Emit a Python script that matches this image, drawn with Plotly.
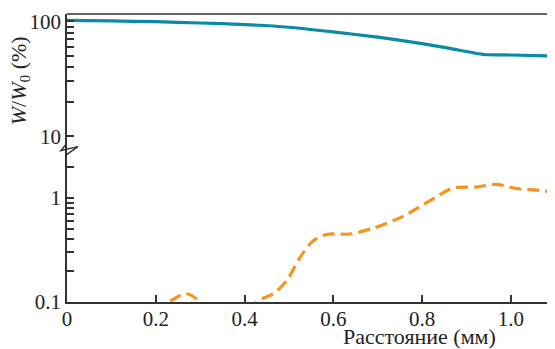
import plotly.graph_objects as go

# Data
teal_x = [0.0, 0.1, 0.2, 0.3, 0.4, 0.5, 0.6, 0.7, 0.8, 0.86, 0.94, 1.0, 1.1]
teal_y = [102, 101, 99.5, 97, 94, 89, 81, 73, 64, 58.5, 51.5, 51, 50]

orange_x = [0.2, 0.236, 0.27, 0.301, 0.33, 0.38, 0.41, 0.43, 0.465, 0.495, 0.525, 0.555, 0.585,
            0.637, 0.689, 0.756, 0.794, 0.832, 0.869, 0.922, 0.967, 1.012, 1.064, 1.1]
orange_y = [0.08, 0.104, 0.12, 0.1, 0.08, 0.07, 0.08, 0.102, 0.12, 0.161, 0.268, 0.387, 0.445,
            0.45, 0.51, 0.66, 0.82, 1.02, 1.24, 1.27, 1.35, 1.23, 1.18, 1.13]

x_ticks = [0, 0.2, 0.4, 0.6, 0.8, 1.0]
x_ticktext = ["0", "0.2", "0.4", "0.6", "0.8", "1.0"]
top_ticks = [10, 20, 30, 40, 50, 60, 70, 80, 90, 100]
top_ticktext = ["10", "", "", "", "", "", "", "", "", "100"]
bot_ticks = [0.1, 0.2, 0.3, 0.4, 0.5, 0.6, 0.7, 0.8, 0.9, 1, 2, 3]
bot_ticktext = ["0.1", "", "", "", "", "", "", "", "", "1", "", ""]

TEAL = "#0b8aa6"
ORANGE = "#f7931e"
AX = "#333333"
FONT = "Liberation Serif, Times New Roman, serif"

OFF = 8  # page body margin
W, H = 547, 341
L, R, T, B = 59, 2, 3, 47
pw, ph = W - L - R, H - T - B
split = (302 - 147) / ph

def px(xp):
    return (xp - OFF - L) / pw

def py(yp):
    return (H - B - (yp - OFF)) / ph

fig = go.Figure()
fig.add_trace(go.Scatter(x=teal_x, y=teal_y, mode="lines", yaxis="y2",
                         line=dict(color=TEAL, width=3.2, shape="spline", smoothing=0.6),
                         showlegend=False, hoverinfo="skip"))
fig.add_trace(go.Scatter(x=orange_x, y=orange_y, mode="lines", yaxis="y",
                         line=dict(color=ORANGE, width=3.2, dash="12px,6px", shape="spline", smoothing=0.9),
                         showlegend=False, hoverinfo="skip"))

axis_common = dict(showline=True, linecolor=AX, linewidth=1.5, ticks="inside", ticklen=7,
                   tickwidth=1.5, tickcolor=AX, showgrid=False, zeroline=False,
                   ticklabeloverflow="allow",
                   tickfont=dict(family=FONT, size=21, color="#222"))

fig.update_layout(
    width=W, height=H,
    margin=dict(l=L, r=R, t=T, b=B),
    plot_bgcolor="white", paper_bgcolor="white",
    xaxis=dict(range=[0, 1.095], tickvals=x_ticks, ticktext=x_ticktext, anchor="y",
               ticklabelstandoff=-3, **axis_common),
    yaxis=dict(type="log", range=[-1, 0.473], domain=[0, split], tickvals=bot_ticks,
               ticktext=bot_ticktext, anchor="x", **axis_common),
    yaxis2=dict(type="log", range=[0.892, 2.065], domain=[split, 1], tickvals=top_ticks,
                ticktext=top_ticktext, anchor="x", **axis_common),
    shapes=[
        dict(type="line", xref="paper", yref="paper", x0=0, x1=1, y0=1, y1=1,
             line=dict(color=AX, width=1.5)),
        dict(type="line", xref="paper", yref="paper", x0=1, x1=1, y0=0, y1=1,
             line=dict(color=AX, width=1.5)),
        dict(type="path", xref="paper", yref="paper",
             path=f"M {px(66.5)},{py(142)} L {px(61)},{py(149)} L {px(78)},{py(145)} L {px(66.5)},{py(153)}",
             line=dict(color=AX, width=1.5)),
    ],
    annotations=[
        dict(text="Расстояние (мм)", xref="paper", yref="paper", x=px(498), y=py(337),
             xanchor="right", yanchor="middle", showarrow=False,
             font=dict(family=FONT, size=22, color="#222")),
        dict(text="<i>W</i>/<i>W</i><sub>0</sub> (%)", xref="paper", yref="paper",
             x=px(20), y=py(79), xanchor="center", yanchor="middle", textangle=-90,
             showarrow=False, font=dict(family=FONT, size=22, color="#222")),
    ],
)

fig.write_html("out.html")
